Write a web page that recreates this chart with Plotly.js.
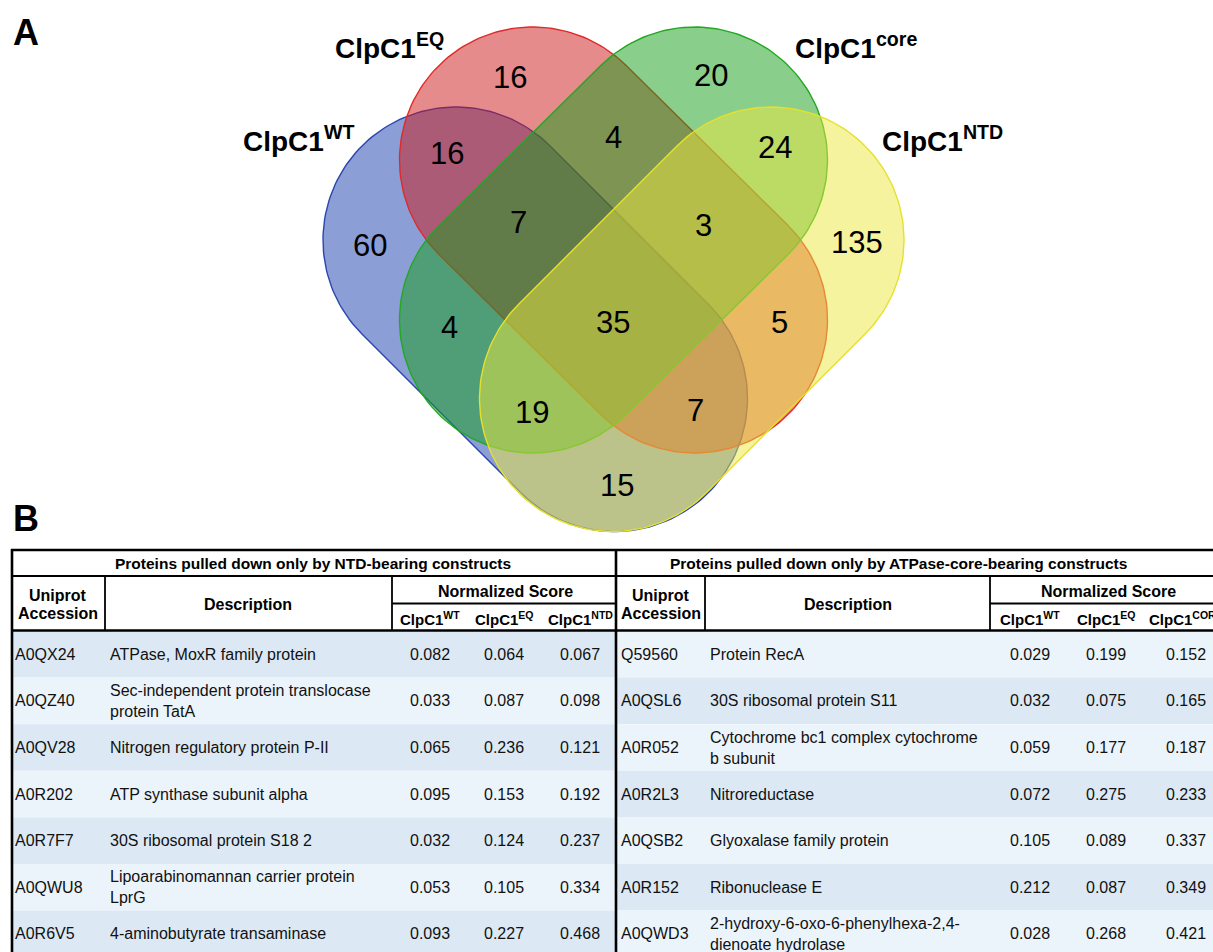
<!DOCTYPE html>
<html><head><meta charset="utf-8">
<script src="https://cdn.plot.ly/plotly-3.0.1.min.js"></script>
<style>html,body{margin:0;padding:0;background:#fff;overflow:hidden}</style>
</head><body><div id="chart" style="width:1213px;height:952px"></div>
<script>
// ---------------- DATA ----------------
// Venn: sets and region counts
const setKeys = ["WT", "EQ", "core", "NTD"];
const setLabels = ["ClpC1<sup>WT</sup>", "ClpC1<sup>EQ</sup>", "ClpC1<sup>core</sup>", "ClpC1<sup>NTD</sup>"];
const regionSets = ["EQ", "core", "WT+EQ", "EQ+core", "core+NTD", "WT", "WT+EQ+core", "EQ+core+NTD",
                    "NTD", "WT+core", "WT+EQ+core+NTD", "EQ+NTD", "WT+core+NTD", "WT+EQ+NTD", "WT+NTD"];
const regionCounts = [16, 20, 16, 4, 24, 60, 7, 3, 135, 4, 35, 5, 19, 7, 15];

// Table: proteins pulled down only by NTD-bearing constructs
const ntdTitle = "Proteins pulled down only by NTD-bearing constructs";
const ntdColumns = ["ClpC1<sup>WT</sup>", "ClpC1<sup>EQ</sup>", "ClpC1<sup>NTD</sup>"];
const ntdAccession = ["A0QX24", "A0QZ40", "A0QV28", "A0R202", "A0R7F7", "A0QWU8", "A0R6V5"];
const ntdDescription = ["ATPase, MoxR family protein", "Sec-independent protein translocase\nprotein TatA",
  "Nitrogen regulatory protein P-II", "ATP synthase subunit alpha", "30S ribosomal protein S18 2",
  "Lipoarabinomannan carrier protein\nLprG", "4-aminobutyrate transaminase"];
const ntdScoreWT = ["0.082", "0.033", "0.065", "0.095", "0.032", "0.053", "0.093"];
const ntdScoreEQ = ["0.064", "0.087", "0.236", "0.153", "0.124", "0.105", "0.227"];
const ntdScoreNTD = ["0.067", "0.098", "0.121", "0.192", "0.237", "0.334", "0.468"];

// Table: proteins pulled down only by ATPase-core-bearing constructs
const coreTitle = "Proteins pulled down only by ATPase-core-bearing constructs";
const coreColumns = ["ClpC1<sup>WT</sup>", "ClpC1<sup>EQ</sup>", "ClpC1<sup>CORE</sup>"];
const coreAccession = ["Q59560", "A0QSL6", "A0R052", "A0R2L3", "A0QSB2", "A0R152", "A0QWD3"];
const coreDescription = ["Protein RecA", "30S ribosomal protein S11", "Cytochrome bc1 complex cytochrome\nb subunit",
  "Nitroreductase", "Glyoxalase family protein", "Ribonuclease E", "2-hydroxy-6-oxo-6-phenylhexa-2,4-\ndienoate hydrolase"];
const coreScoreWT = ["0.029", "0.032", "0.059", "0.072", "0.105", "0.212", "0.028"];
const coreScoreEQ = ["0.199", "0.075", "0.177", "0.275", "0.089", "0.087", "0.268"];
const coreScoreCORE = ["0.152", "0.165", "0.187", "0.233", "0.337", "0.349", "0.421"];

// ---------------- LAYOUT / STYLE ----------------
const FONT = "Arial, 'Liberation Sans', sans-serif";
const W = 1213, H = 952;
const shapeGeom = {
  WT:   {p1: [456, 240],   p2: [614.5, 398.5], fill: "rgba(23,61,173,0.5)",  line: "#2a45b0"},
  EQ:   {p1: [532.5, 160], p2: [694.5, 320],   fill: "rgba(205,23,23,0.5)",  line: "#e02a2a"},
  core: {p1: [694.5, 160], p2: [532.5, 320],   fill: "rgba(21,157,25,0.5)",  line: "#22a822"},
  NTD:  {p1: [771, 240],   p2: [612.5, 398.5], fill: "rgba(235,231,61,0.5)", line: "#e6e02c"}
};
const R = 133;
const labelPos = {WT: [298, 139], EQ: [389, 46], core: [856, 46], NTD: [942, 139]};
const regionPos = {
  "EQ": [510, 77], "core": [711, 75], "WT+EQ": [447, 153], "EQ+core": [613, 137], "core+NTD": [775, 147],
  "WT": [370, 245], "WT+EQ+core": [518, 222], "EQ+core+NTD": [703, 225], "NTD": [857, 242],
  "WT+core": [449, 327], "WT+EQ+core+NTD": [613, 322], "EQ+NTD": [779, 322], "WT+core+NTD": [532, 412],
  "WT+EQ+NTD": [695, 410], "WT+NTD": [617, 485]
};

function stadium(p1, p2, r, n) {
  const dx = p2[0] - p1[0], dy = p2[1] - p1[1];
  const a = Math.atan2(dy, dx);
  const xs = [], ys = [];
  for (let i = 0; i <= n; i++) {
    const t = a - Math.PI / 2 + Math.PI * i / n;
    xs.push(p2[0] + r * Math.cos(t)); ys.push(p2[1] + r * Math.sin(t));
  }
  for (let i = 0; i <= n; i++) {
    const t = a + Math.PI / 2 + Math.PI * i / n;
    xs.push(p1[0] + r * Math.cos(t)); ys.push(p1[1] + r * Math.sin(t));
  }
  xs.push(xs[0]); ys.push(ys[0]);
  return {xs, ys};
}

const traces = setKeys.map((k, i) => {
  const g = shapeGeom[k];
  const s = stadium(g.p1, g.p2, R, 90);
  return {type: "scatter", mode: "lines", x: s.xs, y: s.ys, fill: "toself",
    fillcolor: g.fill, line: {color: g.line, width: 1.4}, hoverinfo: "skip", name: setLabels[i], showlegend: false};
});

const annotations = [];
function ann(x, y, text, size, opts) {
  annotations.push(Object.assign({x, y, xref: "x", yref: "y", text, showarrow: false,
    font: {family: FONT, size, color: "#000"}, xanchor: "center", yanchor: "middle"}, opts || {}));
}

// Panel letters
ann(26, 32, "<b>A</b>", 36);
ann(26, 518, "<b>B</b>", 36);

// Venn set labels
setKeys.forEach((k, i) => ann(labelPos[k][0], labelPos[k][1], "<b>" + setLabels[i] + "</b>", 28));
// Venn region counts
regionSets.forEach((r, i) => ann(regionPos[r][0], regionPos[r][1], String(regionCounts[i]), 31));

// ---------------- TABLE ----------------
const shapes = [];
const rowTop = 631, rowH = 46.6, nRows = ntdAccession.length;
const DARK = "#dce9f5", LIGHT = "#ecf4fb";
const tblLeft = 12, mid = 616, tblRight = W;
const BODY = 16;

for (let i = 0; i < nRows; i++) {
  const y0 = rowTop + i * rowH, y1 = y0 + rowH;
  shapes.push({type: "rect", xref: "x", yref: "y", x0: tblLeft, x1: mid, y0, y1,
    fillcolor: i % 2 === 0 ? DARK : LIGHT, line: {width: 0}, layer: "below"});
  shapes.push({type: "rect", xref: "x", yref: "y", x0: mid, x1: tblRight, y0, y1,
    fillcolor: i % 2 === 0 ? LIGHT : DARK, line: {width: 0}, layer: "below"});
}
function hline(x0, x1, y, w) { shapes.push({type: "line", xref: "x", yref: "y", x0, x1, y0: y, y1: y, line: {color: "#000", width: w}}); }
function vline(x, y0, y1, w) { shapes.push({type: "line", xref: "x", yref: "y", x0: x, x1: x, y0, y1, line: {color: "#000", width: w}}); }

hline(tblLeft - 1, tblRight, 550, 2.6);
hline(tblLeft, tblRight, 576, 1.8);
hline(tblLeft - 1, tblRight, 630.5, 2.6);
vline(tblLeft, 549, H, 2.6);
vline(mid, 549, H, 2.6);

const halves = [
  {title: ntdTitle, titleX: 313, acc: ntdAccession, desc: ntdDescription, cols: ntdColumns,
   scores: [ntdScoreWT, ntdScoreEQ, ntdScoreNTD], accX: 13, descX: 108, accC: 58, descC: 248,
   sep1: 105, sep2: 392, right: mid, scoreX: [430, 504, 580]},
  {title: coreTitle, titleX: 898, acc: coreAccession, desc: coreDescription, cols: coreColumns,
   scores: [coreScoreWT, coreScoreEQ, coreScoreCORE], accX: 619, descX: 708, accC: 661, descC: 848,
   sep1: 705, sep2: 990, right: tblRight, scoreX: [1030, 1106, 1186]}
];

halves.forEach(h => {
  vline(h.sep1, 576, 631, 1.8);
  vline(h.sep2, 576, 631, 1.8);
  hline(h.sep2, h.right, 603.5, 1.8);
  ann(h.titleX, 563.5, "<b>" + h.title + "</b>", 15.5);
  ann(h.accC, 595, "<b>Uniprot</b>", 16);
  ann(h.accC, 613.5, "<b>Accession</b>", 16);
  ann(h.descC, 604, "<b>Description</b>", 16);
  ann((h.scoreX[0] + h.scoreX[2]) / 2 + 0.5, 591, "<b>Normalized Score</b>", 16);
  h.cols.forEach((c, j) => ann(h.scoreX[j], 618.5, "<b>" + c + "</b>", 15));
  for (let i = 0; i < nRows; i++) {
    const yc = rowTop + i * rowH + rowH / 2;
    ann(h.accX, yc, h.acc[i], BODY, {xanchor: "left", font: {family: FONT, size: BODY, color: "#111"}});
    const lines = h.desc[i].split("\n");
    lines.forEach((ln, k) => {
      const yy = yc + (k - (lines.length - 1) / 2) * 21;
      ann(h.descX, yy, ln, BODY, {xanchor: "left", font: {family: FONT, size: BODY, color: "#111"}});
    });
    h.scores.forEach((col, j) => ann(h.scoreX[j], yc, col[i], BODY, {font: {family: FONT, size: BODY, color: "#111"}}));
  }
});

const layout = {
  width: W, height: H, margin: {l: 0, r: 0, t: 0, b: 0},
  paper_bgcolor: "#fff", plot_bgcolor: "#fff",
  xaxis: {range: [0, W], visible: false, fixedrange: true},
  yaxis: {range: [H, 0], visible: false, fixedrange: true},
  showlegend: false, shapes, annotations
};
Plotly.newPlot("chart", traces, layout, {staticPlot: true, displayModeBar: false});
</script></body></html>
